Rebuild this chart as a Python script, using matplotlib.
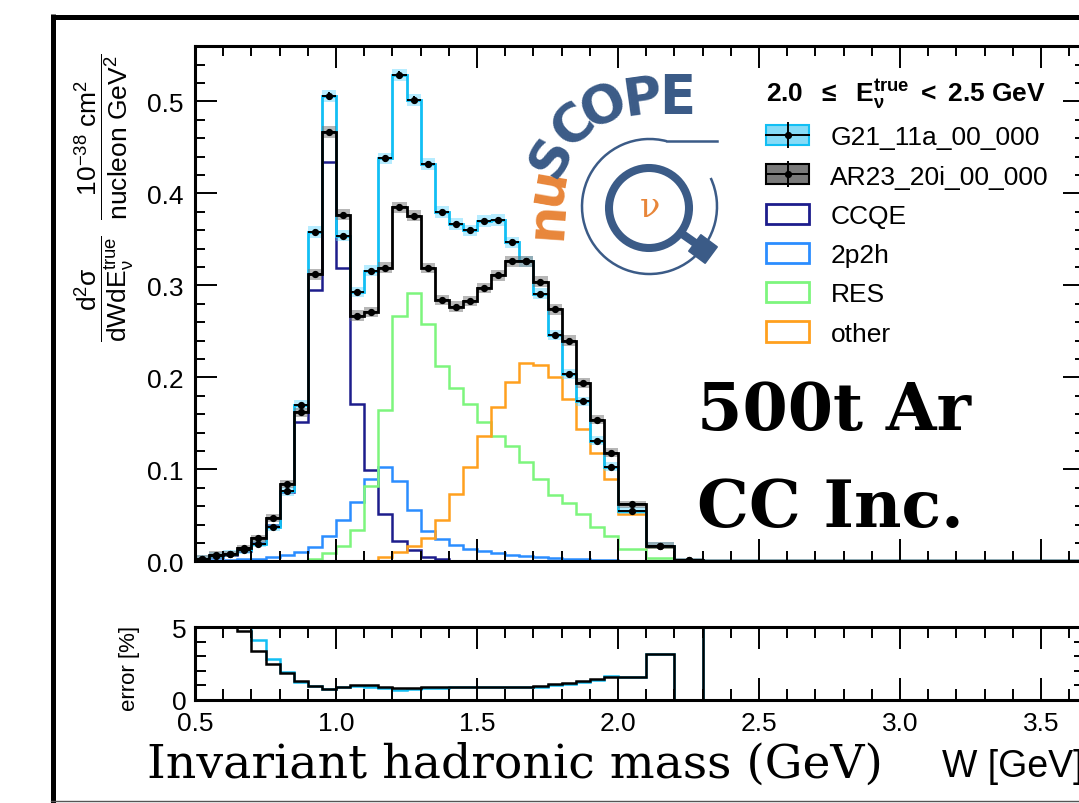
import numpy as np
import matplotlib
matplotlib.use("Agg")
import matplotlib.pyplot as plt
from matplotlib.patches import Patch, Arc, Circle, RegularPolygon
from matplotlib.lines import Line2D
from matplotlib.legend_handler import HandlerTuple
from matplotlib.ticker import MultipleLocator, FixedLocator

plt.rcParams['font.family'] = ['Liberation Sans', 'DejaVu Sans']
plt.rcParams['mathtext.fontset'] = 'custom'
plt.rcParams['mathtext.rm'] = 'Liberation Sans'
plt.rcParams['mathtext.it'] = 'Liberation Sans:italic'
plt.rcParams['mathtext.bf'] = 'Liberation Sans:bold'

# W bin edges [GeV]
edges = [0.50, 0.55, 0.60, 0.65, 0.70, 0.75, 0.80, 0.85, 0.90, 0.95,
         1.00, 1.05, 1.10, 1.15, 1.20, 1.25, 1.30, 1.35, 1.40, 1.45,
         1.50, 1.55, 1.60, 1.65, 1.70, 1.75, 1.80, 1.85, 1.90, 1.95,
         2.00, 2.10, 2.20, 2.30, 4.00]

# d2sigma/dWdE  [1e-38 cm2 / nucleon GeV2]
g21 = [0.003, 0.006, 0.008, 0.012, 0.019, 0.037, 0.076, 0.170, 0.358, 0.506,
       0.354, 0.293, 0.316, 0.438, 0.529, 0.502, 0.432, 0.380, 0.367, 0.360,
       0.370, 0.371, 0.347, 0.326, 0.291, 0.246, 0.204, 0.174, 0.131, 0.103,
       0.055, 0.017, 0.001, 0.0]
ar23 = [0.003, 0.007, 0.008, 0.014, 0.025, 0.047, 0.084, 0.162, 0.312, 0.467,
        0.377, 0.267, 0.271, 0.319, 0.385, 0.376, 0.319, 0.284, 0.277, 0.283,
        0.297, 0.311, 0.326, 0.326, 0.304, 0.274, 0.240, 0.194, 0.154, 0.118,
        0.062, 0.017, 0.001, 0.0]
ccqe = [0.002, 0.005, 0.007, 0.011, 0.020, 0.039, 0.075, 0.152, 0.295, 0.434,
        0.319, 0.171, 0.099, 0.051, 0.022, 0.012, 0.005, 0.002, 0.0, 0.0,
        0.0, 0.0, 0.0, 0.0, 0.0, 0.0, 0.0, 0.0, 0.0, 0.0,
        0.0, 0.0, 0.0, 0.0]
mec = [0.001, 0.001, 0.0015, 0.002, 0.003, 0.005, 0.007, 0.010, 0.016, 0.027,
       0.045, 0.064, 0.090, 0.102, 0.087, 0.056, 0.033, 0.024, 0.018, 0.013,
       0.011, 0.009, 0.007, 0.006, 0.005, 0.004, 0.003, 0.002, 0.001, 0.001,
       0.0005, 0.0, 0.0, 0.0]
res = [0.0, 0.0, 0.0, 0.0, 0.0, 0.0, 0.0, 0.0, 0.003, 0.009,
       0.017, 0.034, 0.082, 0.164, 0.267, 0.292, 0.258, 0.212, 0.188, 0.171,
       0.152, 0.136, 0.125, 0.108, 0.089, 0.072, 0.063, 0.051, 0.037, 0.028,
       0.013, 0.004, 0.0, 0.0]
other = [0.0, 0.0, 0.0, 0.0, 0.0, 0.0, 0.0, 0.0, 0.0, 0.0,
         0.0, 0.0, 0.0, 0.005, 0.010, 0.017, 0.025, 0.045, 0.073, 0.102,
         0.136, 0.168, 0.195, 0.216, 0.213, 0.200, 0.177, 0.144, 0.118, 0.090,
         0.051, 0.016, 0.0, 0.0]

# relative error [%]
err_g21 = [25.0, 15.0, 10.0, 6.0, 4.1, 2.8, 1.95, 1.25, 0.93, 0.78,
           0.87, 0.95, 0.92, 0.80, 0.72, 0.73, 0.80, 0.85, 0.88, 0.88,
           0.88, 0.88, 0.88, 0.88, 0.92, 1.00, 1.10, 1.22, 1.38, 1.62,
           1.60, 3.15, 0.0, 100.0]
err_ar23 = [20.0, 12.0, 8.0, 4.75, 3.4, 2.5, 1.87, 1.30, 0.95, 0.75,
            0.87, 1.02, 1.00, 0.92, 0.83, 0.83, 0.88, 0.92, 0.92, 0.92,
            0.92, 0.90, 0.90, 0.92, 0.98, 1.08, 1.18, 1.30, 1.45, 1.60,
            1.60, 3.15, 0.0, 100.0]

c_g21 = '#12bff4'
c_ccqe = '#1d1d8c'
c_mec = '#2b8dff'
c_res = '#7df57d'
c_other = '#ffa01e'
logo_blue = '#3b5b87'
logo_orange = '#e8863a'

edges = np.array(edges)
centres = 0.5 * (edges[:-1] + edges[1:])
halfw = 0.5 * np.diff(edges)

W, H = 1079, 804
fig = plt.figure(figsize=(W / 100, H / 100), dpi=100)
ax = fig.add_axes([195 / W, 1 - 562.3 / H, 890 / W, 515 / H])
axr = fig.add_axes([195 / W, 1 - 701 / H, 890 / W, 72.7 / H])

# components
for vals, col in [(ccqe, c_ccqe), (mec, c_mec), (res, c_res), (other, c_other)]:
    ax.stairs(vals, edges, color=col, lw=1.8)

# totals with error bands
for vals, err, col, band, ba in [(g21, err_g21, c_g21, '#5fd6ff', 0.45),
                                 (ar23, err_ar23, 'black', '#707070', 0.5)]:
    v = np.array(vals)
    e = v * np.minimum(np.array(err), 30) / 100
    ax.stairs(v + e + 0.003, edges, baseline=v - e - 0.003, fill=True, color=band, alpha=ba, lw=0)
    ax.stairs(v, edges, color=col, lw=2.0)
    n = len(v) - 1
    ax.errorbar(centres[:n], v[:n], xerr=halfw[:n], yerr=e[:n], fmt='o', ms=4.2,
                color='black', elinewidth=1.4, capsize=0, zorder=4)

ax.set_xlim(0.5, 3.656)
ax.set_ylim(0, 0.56)
ax.yaxis.set_major_locator(MultipleLocator(0.1))
ax.yaxis.set_minor_locator(MultipleLocator(0.02))
ax.xaxis.set_major_locator(MultipleLocator(0.5))
ax.xaxis.set_minor_locator(MultipleLocator(0.1))
ax.yaxis.set_major_formatter(matplotlib.ticker.FormatStrFormatter('%.1f'))
ax.tick_params(which='both', direction='in', top=True, right=True, labelbottom=False, width=1.4)
ax.tick_params(which='major', length=16, labelsize=19, pad=8)
ax.tick_params(which='minor', length=7.5)
for s in ax.spines.values():
    s.set_linewidth(2.2)

# ratio (error) panel
axr.stairs(err_g21, edges, color=c_g21, lw=1.8)
axr.stairs(err_ar23, edges, color='black', lw=1.8)
axr.set_xlim(0.5, 3.656)
axr.set_ylim(0, 5)
axr.yaxis.set_major_locator(FixedLocator([0, 5]))
axr.yaxis.set_minor_locator(FixedLocator([1, 2, 3, 4]))
axr.xaxis.set_major_locator(MultipleLocator(0.5))
axr.xaxis.set_minor_locator(MultipleLocator(0.1))
axr.xaxis.set_major_formatter(matplotlib.ticker.FormatStrFormatter('%.1f'))
axr.tick_params(which='both', direction='in', top=True, right=True, width=1.4)
axr.tick_params(which='major', length=16, labelsize=19, pad=6)
axr.tick_params(axis='x', which='major', pad=8)
axr.tick_params(which='minor', length=8)
for s in axr.spines.values():
    s.set_linewidth(2.2)

# legend
cross = Line2D([], [], color='black', lw=1.4, marker='|', ms=19, mew=1.4)
dot = Line2D([], [], ls='none', marker='o', color='black', ms=4.2)
handles = [(Patch(facecolor='#86dbf7', edgecolor=c_g21, lw=1.5), cross, dot),
           (Patch(facecolor='#7a7a7a', edgecolor='black', lw=1.5), cross, dot),
           Patch(facecolor='white', edgecolor=c_ccqe, lw=2),
           Patch(facecolor='white', edgecolor=c_mec, lw=2),
           Patch(facecolor='white', edgecolor=c_res, lw=2),
           Patch(facecolor='white', edgecolor=c_other, lw=2)]
labels = ['G21_11a_00_000', 'AR23_20i_00_000', 'CCQE', '2p2h', 'RES', 'other']
ax.legend(handles, labels, loc='upper left',
          bbox_to_anchor=((766 - 195) / 890, 1 - (77 - 47.3) / 515),
          frameon=False, fontsize=19, handlelength=1.64, handleheight=0.8,
          labelspacing=0.57, handletextpad=0.8, borderpad=0, borderaxespad=0,
          title=r'$\mathbf{2.0\ \ \leq\ \ E_{ν}^{true}\ <\ 2.5\ GeV}$', title_fontsize=19,
          alignment='left', handler_map={tuple: HandlerTuple(ndivide=1, pad=0)})

# overlay in pixel coordinates for slide decorations
ov = fig.add_axes([0, 0, 1, 1])
ov.set_xlim(0, W)
ov.set_ylim(H, 0)
ov.axis('off')

ov.plot([53, 53], [15, H], color='black', lw=3.6, solid_capstyle='butt')
ov.plot([51, W], [17.5, 17.5], color='black', lw=3.6, solid_capstyle='butt')
ov.plot([51, W], [801.5, 801.5], color='#555555', lw=1.0)

fig.text(105 / W, 1 - 198 / H,
         r'$\dfrac{\mathrm{d^{2}σ}}{\mathrm{dWdE_{ν}^{true}}}\ \ \dfrac{\mathrm{10^{-38}\ cm^{2}}}{\mathrm{nucleon\ GeV^{2}}}$',
         rotation=90, ha='center', va='center', fontsize=19)
fig.text(130 / W, 1 - 668 / H, 'error [%]', rotation=90, ha='center', va='center', fontsize=16)

ov.text(697, 430, '500t Ar', fontfamily='DejaVu Serif', fontweight='bold', fontsize=47,
        ha='left', va='baseline')
ov.text(697, 527, 'CC Inc.', fontfamily='DejaVu Serif', fontweight='bold', fontsize=47,
        ha='left', va='baseline')
ov.text(147, 778, 'Invariant hadronic mass (GeV)', fontfamily='DejaVu Serif', fontsize=34,
        ha='left', va='baseline')
ov.text(1083, 777, 'W [GeV]', fontsize=27, ha='right', va='baseline')

# nuSCOPE logo
letters = [('n', 547, 220, 86, logo_orange), ('u', 547, 186, 80, logo_orange),
           ('S', 552, 157, 62, logo_blue), ('C', 574, 126, 42, logo_blue),
           ('O', 604, 107, 24, logo_blue), ('P', 642, 99, 8, logo_blue),
           ('E', 677, 98, 0, logo_blue)]
for ch, x, y, rot, col in letters:
    ov.text(x, y, ch, fontfamily='DejaVu Sans', fontweight='bold', fontsize=38,
            color=col, rotation=rot, ha='center', va='center', rotation_mode='anchor')
ov.add_patch(Arc((649.5, 207.5), 135, 135, theta1=-25, theta2=285, color=logo_blue, lw=1.8))
ov.plot([667, 717], [142, 142], color=logo_blue, lw=1.8)
ov.add_patch(Circle((649, 209), 40, fill=False, ec=logo_blue, lw=5.8))
ov.plot([678, 698], [232, 246], color=logo_blue, lw=6, solid_capstyle='butt')
ov.add_patch(RegularPolygon((703, 250), 4, radius=14.5, orientation=np.deg2rad(-8.5),
                            color=logo_blue))
ov.text(650, 208, 'ν', fontfamily='DejaVu Serif', fontsize=24,
        color=logo_orange, ha='center', va='center')

fig.savefig('out.png', dpi=100)
